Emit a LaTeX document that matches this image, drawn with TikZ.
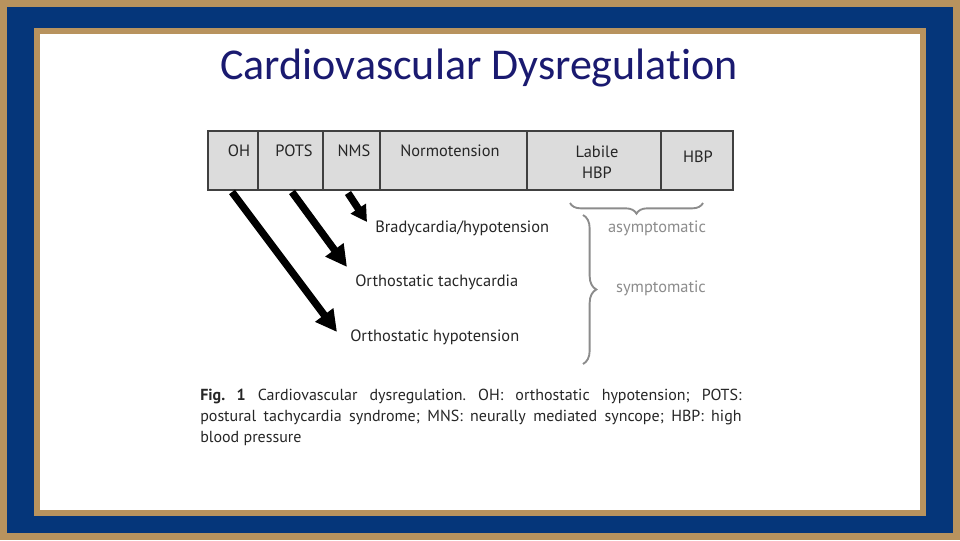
\documentclass[tikz,border=0pt]{standalone}
\usepackage{fontspec}
\setmainfont{PT Sans}
\newfontfamily\titlefont[Ligatures=NoCommon]{Carlito}
\usetikzlibrary{decorations.pathreplacing,arrows.meta}
\definecolor{gold}{HTML}{B8935E}
\definecolor{navy}{HTML}{05367A}
\definecolor{cellgray}{HTML}{DCDCDC}
\definecolor{titleblue}{HTML}{1A1A70}
\definecolor{bracegray}{HTML}{8C8C8C}
\begin{document}
\begin{tikzpicture}[x=0.75pt,y=-0.75pt,
  cell/.style={draw=black!75,line width=0.9pt,fill=cellgray},
  lab/.style={font=\fontsize{12.3}{14}\selectfont,inner sep=0pt,text=black!85},
  glab/.style={font=\fontsize{12.3}{14}\selectfont,text=bracegray,inner sep=0pt},
  bigarrow/.style={line width=5.5pt,-{Triangle[width=16pt,length=16pt]}},
  gbrace/.style={draw=bracegray,line width=1.4pt,decorate,decoration={brace,amplitude=8pt}}]
\useasboundingbox (0,0) rectangle (960,540);
\fill[gold] (0,0) rectangle (960,540);
\fill[navy] (7,7) rectangle (953,533);
\fill[gold] (34,28) rectangle (926,516);
\fill[white] (40,34) rectangle (920,510);
\node[font=\titlefont\fontsize{33}{36}\selectfont,text=titleblue] (title) at (479,68) {Cardiovascular Dysregulation};
% table
\foreach \a/\b/\n in {208/258/c1,258/323/c2,323/380/c3,380/527/c4,527/661/c5,661/733/c6}
  \draw[cell] (\a,131) rectangle (\b,190);
\node[lab] (oh) at (239,151) {OH};
\node[lab] (pots) at (294,151) {POTS};
\node[lab] (nms) at (354,151) {NMS};
\node[lab] (nt) at (450,151) {Normotension};
\node[lab,align=center] (lab5) at (597,162) {Labile\\[2pt]HBP};
\node[lab] (hbp) at (698,157) {HBP};
% arrows
\coordinate (a1s) at (232,192); \coordinate (a1e) at (337,332);
\coordinate (a2s) at (292,192); \coordinate (a2e) at (347,267);
\coordinate (a3s) at (348,193); \coordinate (a3e) at (367,222);
\draw[bigarrow] (a1s) -- (a1e);
\draw[bigarrow] (a2s) -- (a2e);
\draw[bigarrow,-{Triangle[width=13pt,length=12pt]}] (a3s) -- (a3e);
\node[lab,anchor=west] (brady) at (375,228) {Bradycardia/hypotension};
\node[lab,anchor=west] (otach) at (355,282) {Orthostatic tachycardia};
\node[lab,anchor=west] (ohyp) at (350,337) {Orthostatic hypotension};
% braces
\coordinate (b1s) at (703,203); \coordinate (b1e) at (570,203);
\draw[gbrace] (b1s) -- (b1e);
\coordinate (b2s) at (583,215); \coordinate (b2e) at (583,364);
\draw[gbrace,decoration={amplitude=10pt}] (b2s) -- (b2e);
\node[glab] (asym) at (657,228) {asymptomatic};
\node[glab] (sym) at (661,288) {symptomatic};
% caption
\node[anchor=north west,text width=406pt,align=justify,inner sep=0pt,
  font=\fontsize{12}{15.8}\selectfont,text=black!85] (cap) at (200,389)
  {\hyphenpenalty=10000 \frenchspacing\textbf{Fig.~1} Cardiovascular dysregulation. OH: orthostatic hypotension; POTS:\linebreak postural tachycardia syndrome; MNS: neurally mediated syncope; HBP: high\linebreak blood pressure\par};
\end{tikzpicture}
\end{document}
